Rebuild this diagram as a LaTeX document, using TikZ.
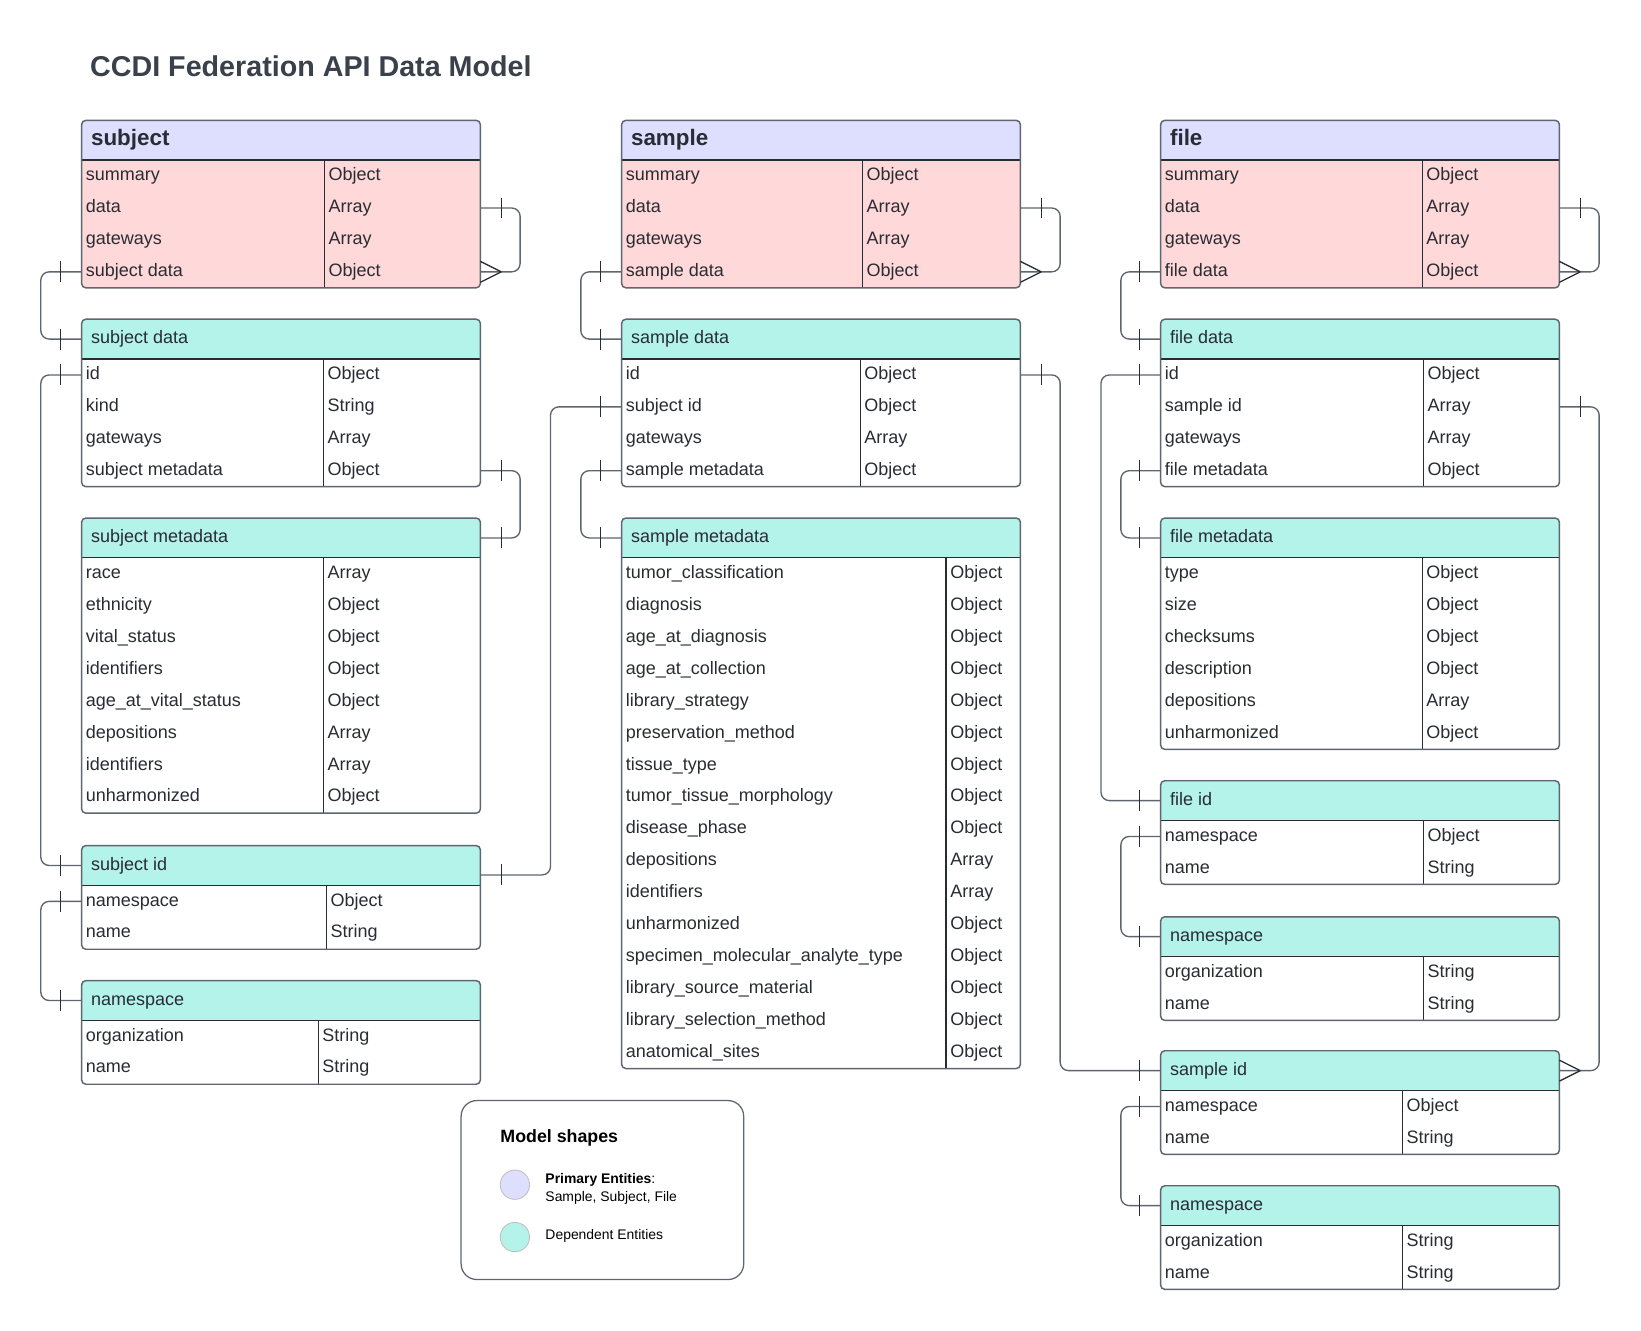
\documentclass[tikz,border=0pt]{standalone}
\usepackage{fontspec}
\setmainfont{Liberation Sans}
\usepackage{xcolor}
\usepackage{tikz}
\usetikzlibrary{decorations.markings}
\definecolor{primhead}{HTML}{DEDEFF}
\definecolor{primbody}{HTML}{FFD8D9}
\definecolor{dephead}{HTML}{B4F3EA}
\definecolor{depbody}{HTML}{FFFFFF}
\definecolor{boxgray}{HTML}{5F6670}
\definecolor{inkgray}{HTML}{282C33}
\definecolor{titlegray}{HTML}{3A414B}
\newcommand{\rowfont}{\fontsize{17.2pt}{20pt}\selectfont}
\newcommand{\fieldbox}[1]{\makebox[373pt][l]{#1}}
\tikzset{
  fieldtxt/.style={anchor=west,inner xsep=4pt,inner ysep=0pt,outer sep=0pt,text height=13pt,text depth=4pt,font=\rowfont,text=inkgray},
  typetxt/.style={fieldtxt},
  primtitle/.style={anchor=west,inner xsep=9pt,inner ysep=0pt,outer sep=0pt,text height=16pt,text depth=5pt,font=\fontsize{21.4pt}{24pt}\selectfont\bfseries,text=inkgray},
  deptitle/.style={primtitle,text height=13pt,text depth=4pt,font=\rowfont},
  divline/.style={draw=inkgray,line width=1.2pt},
  tblborder/.style={draw=boxgray,line width=1.4pt,rounded corners=4pt},
  rel/.style={draw=boxgray,line width=1.3pt,rounded corners=8pt},
  tickline/.style={draw=inkgray,line width=1.2pt},
  onestart/.style={postaction={decorate,decoration={markings,mark=at position 20pt with {\draw[tickline] (0pt,-10pt) -- (0pt,10pt);}}}},
  oneend/.style={postaction={decorate,decoration={markings,mark=at position -20pt with {\draw[tickline] (0pt,-10pt) -- (0pt,10pt);}}}},
  manyend/.style={postaction={decorate,decoration={markings,mark=at position -20pt with {\draw[tickline] (0pt,0pt) -- (20pt,10pt) (0pt,0pt) -- (20pt,-10pt);}}}},
  legbox/.style={anchor=north west,draw=boxgray,line width=1.2pt,rounded corners=15pt,minimum width=270pt,minimum height=171pt},
  legdot/.style={circle,draw=black!25,line width=0.8pt,minimum size=28pt,inner sep=0pt},
  legtxt/.style={anchor=west,align=left,inner sep=0pt,font=\fontsize{13.3pt}{18pt}\selectfont,text=black},
}
% #1 name, #2 x, #3 top y, #4 type column x, #5 prim/dep, #6 title, #7 rows
\newcommand{\ertable}[7]{%
  \foreach \fname/\ftype [count=\i] in {#7} {\xdef\nrows{\i}}
  \fill[#5body,rounded corners=4pt] (#2,#3) rectangle ({#2+381},{#3+38+\nrows*30.5});
  \fill[#5head] (#2,{#3+38}) [rounded corners=4pt] -- (#2,#3) -- ({#2+381},#3) [sharp corners] -- ({#2+381},{#3+38}) -- cycle;
  \node[#5title] (#1) at (#2,{#3+19}) {\makebox[363pt][l]{#6}};
  \foreach \fname/\ftype [count=\i] in {#7} {
    \node[fieldtxt] (#1-\i) at (#2,{#3+38+(\i-0.5)*30.5}) {\fieldbox{\fname}};
    \node[typetxt] (#1-\i-t) at (#4,{#3+38+(\i-0.5)*30.5}) {\ftype};
  }
  \draw[divline] (#2,{#3+38}) -- ({#2+381},{#3+38});
  \draw[divline] (#4,{#3+38}) -- (#4,{#3+38+\nrows*30.5});
  \draw[tblborder] (#2,#3) rectangle ({#2+381},{#3+38+\nrows*30.5});
}

\begin{document}
\begin{tikzpicture}[x=1pt,y=-1pt]
  \useasboundingbox (0,0) rectangle (1568,1271);
  \fill[white] (0,0) rectangle (1568,1271);
  \node[anchor=west,inner sep=0pt,font=\fontsize{27.4pt}{32pt}\selectfont\bfseries,text=titlegray] (title) at (86,63) {CCDI Federation API Data Model};

  % subject column
  \ertable{tSubj}{78}{115}{310}{prim}{subject}{summary/Object, data/Array, gateways/Array, subject data/Object}
  \ertable{tSubjData}{78}{305}{309}{dep}{subject data}{id/Object, kind/String, gateways/Array, subject metadata/Object}
  \ertable{tSubjMeta}{78}{495}{309}{dep}{subject metadata}{race/Array, ethnicity/Object, vital\_status/Object, identifiers/Object, age\_at\_vital\_status/Object, depositions/Array, identifiers/Array, unharmonized/Object}
  \ertable{tSubjId}{78}{808}{312}{dep}{subject id}{namespace/Object, name/String}
  \ertable{tSubjNs}{78}{937}{304}{dep}{namespace}{organization/String, name/String}

  % sample column
  \ertable{tSmp}{594}{115}{824}{prim}{sample}{summary/Object, data/Array, gateways/Array, sample data/Object}
  \ertable{tSmpData}{594}{305}{822}{dep}{sample data}{id/Object, subject id/Object, gateways/Array, sample metadata/Object}
  \ertable{tSmpMeta}{594}{495}{904}{dep}{sample metadata}{tumor\_classification/Object, diagnosis/Object, age\_at\_diagnosis/Object, age\_at\_collection/Object, library\_strategy/Object, preservation\_method/Object, tissue\_type/Object, tumor\_tissue\_morphology/Object, disease\_phase/Object, depositions/Array, identifiers/Array, unharmonized/Object, specimen\_molecular\_analyte\_type/Object, library\_source\_material/Object, library\_selection\_method/Object, anatomical\_sites/Object}

  % file column
  \ertable{tFile}{1109}{115}{1359}{prim}{file}{summary/Object, data/Array, gateways/Array, file data/Object}
  \ertable{tFileData}{1109}{305}{1360}{dep}{file data}{id/Object, sample id/Array, gateways/Array, file metadata/Object}
  \ertable{tFileMeta}{1109}{495}{1359}{dep}{file metadata}{type/Object, size/Object, checksums/Object, description/Object, depositions/Array, unharmonized/Object}
  \ertable{tFileId}{1109}{746}{1360}{dep}{file id}{namespace/Object, name/String}
  \ertable{tFileNs}{1109}{876}{1360}{dep}{namespace}{organization/String, name/String}
  \ertable{tSmpId}{1109}{1004}{1340}{dep}{sample id}{namespace/Object, name/String}
  \ertable{tSmpNs}{1109}{1133}{1340}{dep}{namespace}{organization/String, name/String}

  % relations
  \draw[rel,onestart,manyend] (tSubj-2.east) -- ++(38,0) |- (tSubj-4.east);
  \draw[rel,onestart,oneend] (tSubj-4.west) -- ++(-39,0) |- (tSubjData.west);
  \draw[rel,onestart,oneend] (tSubjData-1.west) -- ++(-39,0) |- (tSubjId.west);
  \draw[rel,onestart,oneend] (tSubjData-4.east) -- ++(38,0) |- (tSubjMeta.east);
  \draw[rel,onestart,oneend] (tSubjId-1.west) -- ++(-39,0) |- (tSubjNs.west);
  \draw[rel,onestart,oneend] ([yshift=-9pt]tSubjId.east) -- ++(67,0) |- (tSmpData-2.west);

  \draw[rel,onestart,manyend] (tSmp-2.east) -- ++(38,0) |- (tSmp-4.east);
  \draw[rel,onestart,oneend] (tSmp-4.west) -- ++(-39,0) |- (tSmpData.west);
  \draw[rel,onestart,oneend] (tSmpData-4.west) -- ++(-39,0) |- (tSmpMeta.west);
  \draw[rel,onestart,oneend] (tSmpData-1.east) -- ++(38,0) |- (tSmpId.west);

  \draw[rel,onestart,manyend] (tFile-2.east) -- ++(38,0) |- (tFile-4.east);
  \draw[rel,onestart,oneend] (tFile-4.west) -- ++(-38,0) |- (tFileData.west);
  \draw[rel,onestart,oneend] (tFileData-1.west) -- ++(-57,0) |- (tFileId.west);
  \draw[rel,onestart,oneend] (tFileData-4.west) -- ++(-38,0) |- (tFileMeta.west);
  \draw[rel,onestart,manyend] (tFileData-2.east) -- ++(38,0) |- (tSmpId.east);
  \draw[rel,onestart,oneend] (tFileId-1.west) -- ++(-38,0) |- (tFileNs.west);
  \draw[rel,onestart,oneend] (tSmpId-1.west) -- ++(-38,0) |- (tSmpNs.west);

  % legend
  \node[legbox] (legend) at (440,1051) {};
  \node[anchor=west,inner sep=0pt,font=\fontsize{17pt}{20pt}\selectfont\bfseries] (legTitle) at (478,1087) {Model shapes};
  \node[legdot,fill=primhead] (legPrim) at (492,1132) {};
  \node[legdot,fill=dephead] (legDep) at (492,1182) {};
  \node[legtxt] (legPrimTxt) at (521,1136) {\textbf{Primary Entities}:\\Sample, Subject, File};
  \node[legtxt] (legDepTxt) at (521,1181) {Dependent Entities};
\end{tikzpicture}
\end{document}
